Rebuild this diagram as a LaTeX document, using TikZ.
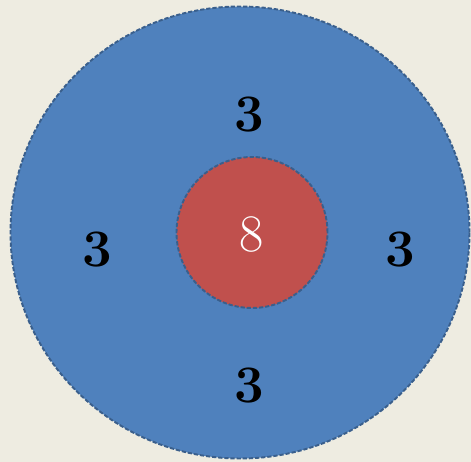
\documentclass[tikz,border=0pt]{standalone}
\usepackage{tikz}
\usetikzlibrary{shapes.geometric}
\definecolor{bgtan}{HTML}{EEECE1}
\definecolor{ringblue}{HTML}{4F81BD}
\definecolor{coreRed}{HTML}{C0504D}
\definecolor{edgeblue}{HTML}{3A5F8C}
\tikzset{
  disc/.style={ellipse,draw=edgeblue,line width=1.1pt,dash pattern=on 2.4pt off 1.1pt,inner sep=0pt},
  count/.style={font=\fontsize{30}{36}\selectfont\bfseries,text=black,inner sep=0pt},
}

\begin{document}
\begin{tikzpicture}[x=0.02cm,y=-0.02cm]
  \fill[bgtan] (0,0) rectangle (471,462);
  \useasboundingbox (0,0) rectangle (471,462);
  % outer ring and core
  \node[disc,fill=ringblue,minimum width=459*0.02cm,minimum height=452*0.02cm] (outer) at (240,232.5) {};
  \node[disc,fill=coreRed,minimum size=151*0.02cm] (core) at (252,232.5) {};
  \node[font=\fontsize{30}{36}\selectfont,text=white,inner sep=0pt] (center) at (252,234.5) {8};
  % neighbours
  \node[count] (north) at (249,114.5) {3};
  \node[count] (west) at (97,250) {3};
  \node[count] (east) at (400,250) {3};
  \node[count] (south) at (249,386) {3};
\end{tikzpicture}
\end{document}
